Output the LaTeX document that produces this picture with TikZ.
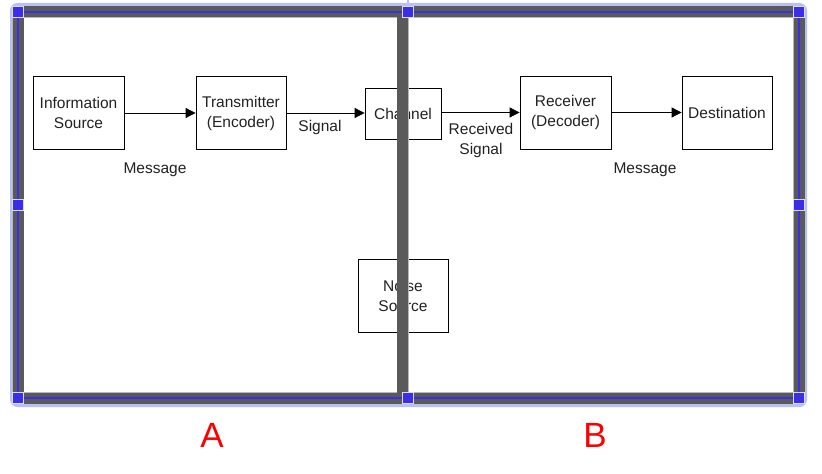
\documentclass[tikz,border=0pt]{standalone}
\usepackage{fontspec}
\setmainfont{Liberation Sans}
\usetikzlibrary{arrows.meta}
\definecolor{framegray}{HTML}{5A5A5A}
\definecolor{frameedge}{HTML}{B8B8B8}
\definecolor{selblue}{HTML}{3A2EE6}
\definecolor{halo}{HTML}{B8C0F4}
\definecolor{handleedge}{HTML}{D8DCEC}
\definecolor{txt}{HTML}{222222}
\begin{document}
\begin{tikzpicture}[x=1bp,y=-1bp,
  blk/.style={draw=black, line width=0.8bp, fill=white, minimum width=91bp, minimum height=73bp,
    align=center, inner sep=0pt, text=txt, font=\fontsize{15.5bp}{20bp}\selectfont},
  lbl/.style={align=center, inner sep=0pt, text=txt, font=\fontsize{15.5bp}{20bp}\selectfont},
  big/.style={text=red, inner sep=0pt, font=\fontsize{35bp}{40bp}\selectfont},
  conn/.style={-{Triangle[length=10bp,width=10bp]}, line width=0.8bp},
  handle/.style={rectangle, draw=handleedge, line width=1.5bp, fill=selblue, minimum size=11bp, inner sep=0pt}]
\useasboundingbox (0,0) rectangle (822,474);
\fill[white] (0,0) rectangle (822,474);
% selection halo
\draw[halo, line width=3bp, rounded corners=6bp] (11.5,4.5) rectangle (805.5,405.5);
\draw[halo, line width=1.5bp] (408,0) -- (408,12);
% blocks
\node[blk] (info) at (78.5,113) {Information\\Source};
\node[blk, minimum width=90bp] (trans) at (241,113) {Transmitter\\(Encoder)};
\node[blk, minimum width=76bp, minimum height=51bp] (chan) at (403,113.5) {Channel};
\node[blk, minimum width=90bp] (noise) at (403,295.5) {Noise\\Source};
\node[blk] (recv) at (565.5,112.5) {Receiver\\(Decoder)};
\node[blk, minimum width=90bp] (dest) at (727,113) {Destination};
% connectors
\draw[conn] (info.east) -- (info.east -| trans.west);
\draw[conn] (trans.east) -- (trans.east -| chan.west);
\draw[conn] (chan.east |- recv.west) -- (recv.west);
\draw[conn] (recv.east) -- (recv.east -| dest.west);
% labels
\node[lbl] (m1) at (155,170) {Message};
\node[lbl] (sig) at (320,127) {Signal};
\node[lbl] (rsig) at (481,140) {Received\\Signal};
\node[lbl] (m2) at (645,170) {Message};
\node[big] (la) at (212,435) {A};
\node[big] (lb) at (595,435) {B};
% frame
\draw[frameedge, line width=12.5bp] (18,12) rectangle (799,398);
\fill[frameedge] (396.5,12) rectangle (408.5,398);
\draw[framegray, line width=11bp] (18,12) rectangle (799,398);
\fill[framegray] (397,12) rectangle (408,398);
\draw[selblue, line width=1.2bp] (18,12) rectangle (799,398);
% handles
\foreach \p [count=\i] in {(18,12),(408,12),(799,12),(18,205),(799,205),(18,398),(408,398),(799,398)}
  \node[handle] (h\i) at \p {};
\end{tikzpicture}
\end{document}
